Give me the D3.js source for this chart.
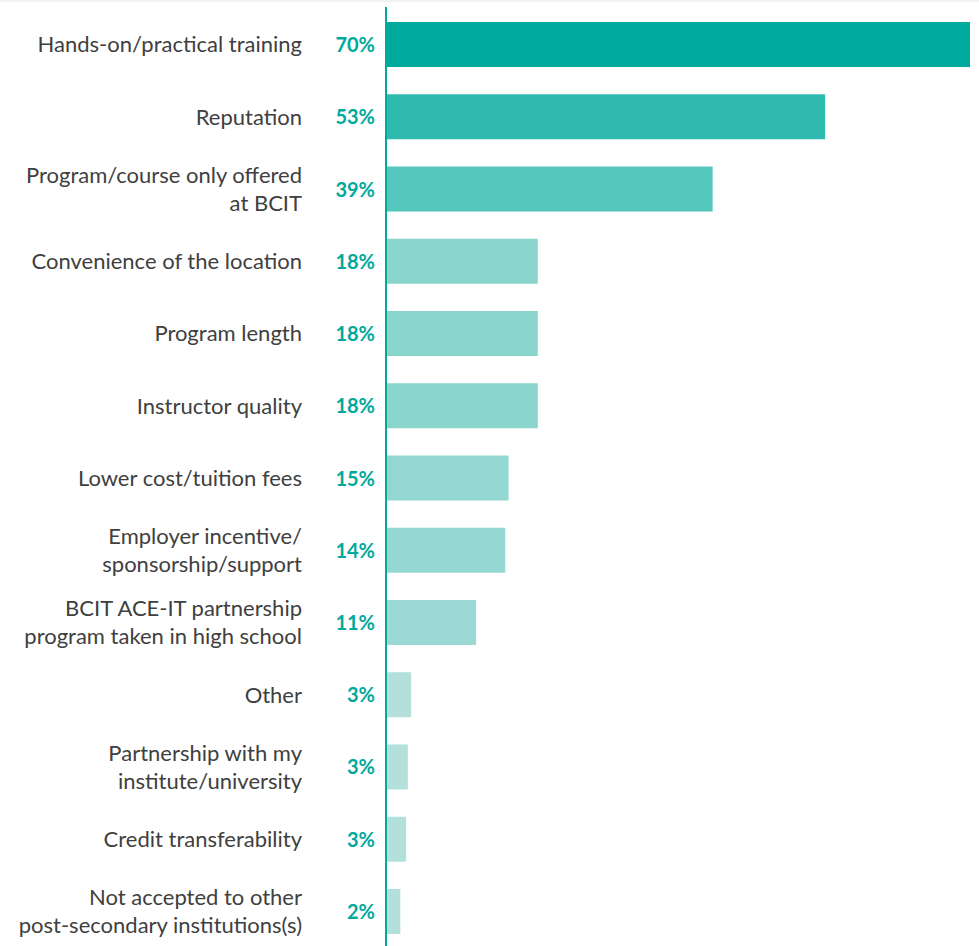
<!DOCTYPE html>
<html>
<head>
<meta charset="utf-8">
<script src="https://cdn.jsdelivr.net/npm/d3@7"></script>
<style>
  html, body { margin: 0; padding: 0; background: #ffffff; }
  svg { display: block; }
</style>
</head>
<body>
<div id="chart"></div>
<script>
// ---- Data ----
const categories = [
  "Hands-on/practical training",
  "Reputation",
  "Program/course only offered\nat BCIT",
  "Convenience of the location",
  "Program length",
  "Instructor quality",
  "Lower cost/tuition fees",
  "Employer incentive/\nsponsorship/support",
  "BCIT ACE-IT partnership\nprogram taken in high school",
  "Other",
  "Partnership with my\ninstitute/university",
  "Credit transferability",
  "Not accepted to other\npost-secondary institutions(s)"
];
const values = [70.0, 52.6, 39.1, 18.1, 18.1, 18.1, 14.6, 14.2, 10.7, 2.9, 2.5, 2.3, 1.6];
const valueLabels = ["70%", "53%", "39%", "18%", "18%", "18%", "15%", "14%", "11%", "3%", "3%", "3%", "2%"];
const barColors = ["#00ab9e", "#2ebaae", "#55c6bc", "#89d4cb", "#89d4cb", "#89d4cb",
                   "#93d7d0", "#95d8d1", "#9dd9d4", "#b3e0da", "#b3e0da", "#b3e0da", "#b3e0da"];

const W = 979, H = 946;
const teal = "#00a99d";
const textColor = "#404040";
const fontFamily = "Lato, 'Open Sans', sans-serif";

const svg = d3.select("#chart").append("svg")
  .attr("width", W).attr("height", H);

// faint top band
svg.append("rect").attr("x", 0).attr("y", 0).attr("width", W).attr("height", 2)
  .attr("fill", "#f2f2f2");

const x = d3.scaleLinear().domain([0, 70]).range([387, 970]);
const y = d3.scaleBand().domain(d3.range(categories.length))
  .range([8.4, 947.6]).paddingInner(0.377).paddingOuter(0.1885);

// bars
svg.append("g").selectAll("rect").data(values).join("rect")
  .attr("x", x(0))
  .attr("y", (d, i) => y(i))
  .attr("width", d => x(d) - x(0))
  .attr("height", y.bandwidth())
  .attr("fill", (d, i) => barColors[i]);

// axis line
svg.append("line")
  .attr("x1", 386).attr("x2", 386)
  .attr("y1", 7).attr("y2", H)
  .attr("stroke", teal).attr("stroke-width", 2);

// value labels
svg.append("g").selectAll("text").data(valueLabels).join("text")
  .attr("x", 375)
  .attr("y", (d, i) => y(i) + y.bandwidth() / 2 + 7.5)
  .attr("text-anchor", "end")
  .attr("font-family", fontFamily)
  .attr("font-weight", "bold")
  .attr("font-size", 20)
  .attr("fill", teal)
  .text(d => d);

// category labels
const lineH = 28;
const catG = svg.append("g");
categories.forEach((c, i) => {
  const lines = c.split("\n");
  const cy = y(i) + y.bandwidth() / 2;
  const t = catG.append("text")
    .attr("text-anchor", "end")
    .attr("font-family", fontFamily)
    .attr("font-size", 22)
    .attr("fill", textColor);
  lines.forEach((ln, k) => {
    t.append("tspan")
      .attr("x", 302)
      .attr("y", cy + 7.9 - (lines.length - 1) * lineH / 2 + k * lineH)
      .text(ln);
  });
});
</script>
</body>
</html>
